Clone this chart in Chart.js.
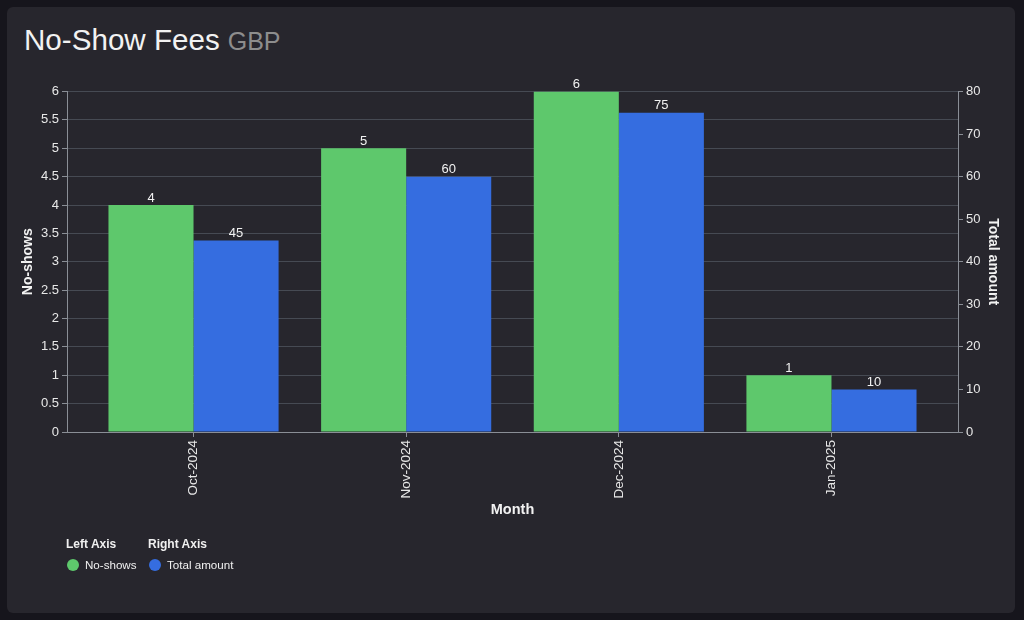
<!DOCTYPE html>
<html>
<head>
<meta charset="utf-8">
<script src="https://cdn.jsdelivr.net/npm/chart.js@4.4.1/dist/chart.umd.min.js"></script>
<style>
  html, body { margin: 0; padding: 0; }
  body { width: 1024px; height: 620px; background: #16151c; position: relative; overflow: hidden;
         font-family: "Liberation Sans", Arial, sans-serif; }
  #card { position: absolute; left: 7px; top: 7px; width: 1008px; height: 606px; background: #27262d; border-radius: 6px; }
  #title { position: absolute; left: 24px; top: 24px; display: flex; align-items: baseline; white-space: nowrap; }
  #title .main { font-size: 29.6px; color: #f2f2f2; line-height: 32px; }
  #title .unit { font-size: 25px; color: #8d8d8d; margin-left: 8px; line-height: 32px; }
  #chart { position: absolute; left: 0; top: 0; }
  .legend { position: absolute; top: 537px; color: #f0f0f0; }
  .legend .hd { font-weight: bold; font-size: 12px; line-height: 14px; }
  .legend .it { margin-top: 7px; font-size: 11.6px; line-height: 14px; display: flex; align-items: center; }
  .legend .dot { width: 12px; height: 12px; border-radius: 50%; margin-left: 1px; margin-right: 6px; }
</style>
</head>
<body>
<div id="card"></div>
<div id="title"><span class="main">No-Show Fees</span><span class="unit">GBP</span></div>
<canvas id="chart" width="1024" height="620"></canvas>
<div class="legend" style="left:66px">
  <div class="hd">Left Axis</div>
  <div class="it"><span class="dot" style="background:#5ec86c"></span><span>No-shows</span></div>
</div>
<div class="legend" style="left:148px">
  <div class="hd">Right Axis</div>
  <div class="it"><span class="dot" style="background:#356de0"></span><span>Total amount</span></div>
</div>
<script>
const months = ["Oct-2024", "Nov-2024", "Dec-2024", "Jan-2025"];
const noShows = [4, 5, 6, 1];
const totalAmount = [45, 60, 75, 10];
const leftTicksMax = 6;
const rightTicksMax = 80;

const GREEN = '#5ec86c';
const BLUE = '#356de0';
const AXIS = '#8a8e96';
const GRID = '#464a53';
const TEXT = '#e8e8e8';

Chart.defaults.font.family = '"Liberation Sans", Arial, sans-serif';
Chart.defaults.font.size = 13;
Chart.defaults.color = TEXT;

const valueLabels = {
  id: 'valueLabels',
  afterDatasetsDraw(chart) {
    const ctx = chart.ctx;
    ctx.save();
    ctx.font = '13px "Liberation Sans", Arial, sans-serif';
    ctx.fillStyle = '#f2f2f2';
    ctx.textAlign = 'center';
    ctx.textBaseline = 'alphabetic';
    chart.data.datasets.forEach((ds, di) => {
      const meta = chart.getDatasetMeta(di);
      meta.data.forEach((el, i) => {
        ctx.fillText(String(ds.data[i].y), el.x, el.y - 3.5);
      });
    });
    ctx.restore();
  }
};

new Chart(document.getElementById('chart'), {
  type: 'bar',
  data: {
    datasets: [
      { label: 'No-shows', data: months.map((m, i) => ({ x: i, y: noShows[i] })), backgroundColor: GREEN, yAxisID: 'y', categoryPercentage: 0.8, barPercentage: 1.0 },
      { label: 'Total amount', data: months.map((m, i) => ({ x: i, y: totalAmount[i] })), backgroundColor: BLUE, yAxisID: 'y1', categoryPercentage: 0.8, barPercentage: 1.0 }
    ]
  },
  options: {
    responsive: false,
    animation: false,
    layout: { padding: { left: 16, right: 18.6, top: 91.5, bottom: 97.6 } },
    plugins: { legend: { display: false }, tooltip: { enabled: false } },
    scales: {
      x: {
        type: 'linear',
        offset: false,
        min: -0.595,
        max: 3.595,
        afterBuildTicks(s) { s.ticks = months.map((m, i) => ({ value: i })); },
        afterFit(s) { s.height = 90.4; },
        ticks: { autoSkip: false, minRotation: 90, maxRotation: 90, padding: 3, color: TEXT, font: { size: 13.5 },
                 callback: (v) => months[v] },
        grid: { offset: false, drawOnChartArea: false, drawTicks: true, tickLength: 5, tickColor: AXIS, color: AXIS },
        border: { display: true, color: AXIS },
        title: { display: true, text: 'Month', color: '#f2f2f2', font: { size: 14.5, weight: 'bold' }, padding: { top: 4, bottom: 4 } }
      },
      y: {
        position: 'left',
        min: 0,
        max: leftTicksMax,
        afterFit(s) { s.width = 51; },
        ticks: { stepSize: 0.5, padding: 3, color: TEXT, font: { size: 13 },
                 callback: (v) => String(Math.round(v * 10) / 10) },
        grid: { color: GRID, tickColor: AXIS, tickLength: 5 },
        border: { display: true, color: AXIS },
        title: { display: true, text: 'No-shows', color: '#f2f2f2', font: { size: 14, weight: 'bold' }, padding: { top: 4, bottom: 4 } }
      },
      y1: {
        position: 'right',
        min: 0,
        max: rightTicksMax,
        afterFit(s) { s.width = 47.4; },
        ticks: { stepSize: 10, padding: 3, color: TEXT, font: { size: 13 } },
        grid: { drawOnChartArea: false, tickColor: AXIS, tickLength: 5 },
        border: { display: true, color: AXIS },
        title: { display: true, text: 'Total amount', color: '#f2f2f2', font: { size: 14, weight: 'bold' }, padding: { top: 4, bottom: 4 } }
      }
    }
  },
  plugins: [valueLabels]
});
</script>
</body>
</html>
